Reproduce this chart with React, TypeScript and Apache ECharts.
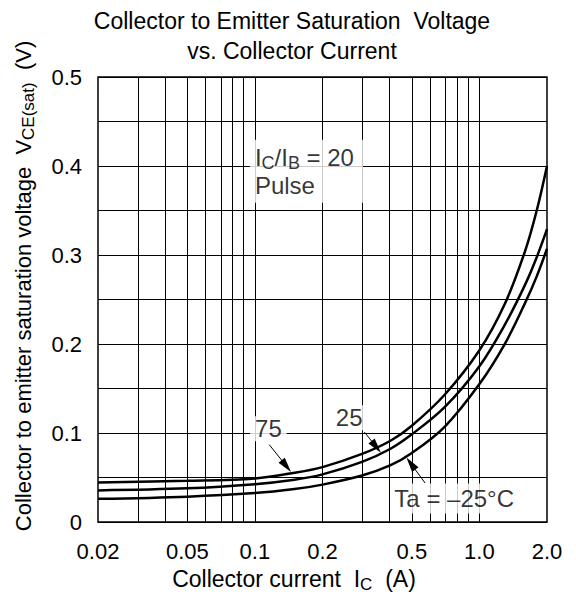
import { useEffect, useRef } from 'react';
import * as echarts from 'echarts';

// Collector current I_C (A)
const currents = [0.02, 0.05, 0.1, 0.15, 0.2, 0.3, 0.4, 0.5, 0.7, 1.0, 1.3, 1.6, 1.8, 2.0];
// V_CE(sat) (V) for each ambient temperature
const vce75 = [0.0445, 0.0463, 0.049, 0.0553, 0.0617, 0.0765, 0.091, 0.1082, 0.143, 0.193, 0.2455, 0.305, 0.35, 0.4];
const vce25 = [0.0355, 0.0378, 0.0425, 0.0475, 0.0535, 0.0675, 0.082, 0.0985, 0.129, 0.175, 0.222, 0.267, 0.2975, 0.329];
const vceMinus25 = [0.026, 0.0285, 0.0325, 0.037, 0.042, 0.0522, 0.0635, 0.0775, 0.107, 0.155, 0.2005, 0.2465, 0.276, 0.307];

const xTickValues = [0.02, 0.05, 0.1, 0.2, 0.5, 1.0, 2.0];
const xTickLabels = ['0.02', '0.05', '0.1', '0.2', '0.5', '1.0', '2.0'];
const xGridValues = [0.03, 0.04, 0.05, 0.06, 0.07, 0.08, 0.09, 0.1, 0.2, 0.3, 0.4, 0.5, 0.6, 0.7, 0.8, 0.9, 1.0];
const yTickLabels = ['0', '0.1', '0.2', '0.3', '0.4', '0.5'];

const titleText = 'Collector to Emitter Saturation  Voltage\nvs. Collector Current';
const xAxisTitle = 'Collector current  I{sub|C}  (A)';
const yAxisTitle = 'Collector to emitter saturation voltage  V{sub|CE(sat)}  (V)';

const annotationTexts = ['I{sub|C}/I{sub|B} = 20\nPulse', '75', '25', 'Ta = –25°C'];
// anchors in data units [I_C, V]
const annotationAnchors = [
  [0.095, 0.394],
  [0.1148, 0.1048],
  [0.263, 0.1172],
  [0.772, 0.0263],
];
const arrowStarts = [
  [0.1158, 0.0869],
  [0.3072, 0.1011],
  [0.573, 0.0438],
];
const arrowEnds = [
  [0.138, 0.0629],
  [0.347, 0.0844],
  [0.495, 0.0656],
];

const FONT = '"Liberation Sans", Arial, Helvetica, sans-serif';
const lg = (v: number) => Math.log10(v);

export default function App() {
  const ref = useRef<HTMLDivElement>(null);

  useEffect(() => {
    if (!ref.current) return;
    const chart = echarts.init(ref.current, null, { renderer: 'svg' });

    const curve = (name: string, vals: number[]) => ({
      name,
      type: 'line',
      data: currents.map((c, i) => [lg(c), vals[i]]),
      showSymbol: false,
      symbol: 'none',
      smooth: 0.35,
      lineStyle: { color: '#000', width: 2.5 },
      z: 5,
      silent: true,
    });

    const subRich = (size: number) => ({
      sub: { fontSize: size, lineHeight: size, verticalAlign: 'bottom', fontFamily: FONT, color: '#000', fill: '#000' },
    });

    const option: any = {
      animation: false,
      backgroundColor: '#fff',
      title: {
        text: titleText,
        left: 292,
        top: 6,
        textAlign: 'center',
        padding: 0,
        textStyle: { fontSize: 23, fontWeight: 'normal', lineHeight: 30, color: '#000', fontFamily: FONT },
      },
      grid: { left: 98, right: 29, top: 77, bottom: 82, show: true, borderColor: '#000', borderWidth: 1.5 },
      xAxis: {
        type: 'value',
        min: lg(0.02),
        max: lg(2.0),
        axisLine: { show: false },
        axisTick: { show: false },
        splitLine: { show: false },
        axisLabel: {
          customValues: xTickValues.map(lg),
          formatter: (v: number) => {
            const i = xTickValues.findIndex((t) => Math.abs(lg(t) - v) < 1e-6);
            return i >= 0 ? xTickLabels[i] : '';
          },
          margin: 18,
          fontSize: 22,
          color: '#000',
          fontFamily: FONT,
        },
      },
      yAxis: {
        type: 'value',
        min: 0,
        max: 0.5,
        interval: 0.05,
        axisLine: { show: false },
        axisTick: { show: false },
        splitLine: { show: true, lineStyle: { color: '#000', width: 1 } },
        axisLabel: {
          formatter: (v: number) => {
            const i = Math.round(v * 20);
            return i % 2 === 0 ? yTickLabels[i / 2] : '';
          },
          margin: 16,
          fontSize: 22,
          color: '#000',
          fontFamily: FONT,
        },
      },
      graphic: [
        {
          type: 'text',
          x: 294,
          y: 579,
          style: {
            text: xAxisTitle,
            fontSize: 23,
            lineHeight: 28,
            fontFamily: FONT,
            fill: '#000',
            align: 'center',
            verticalAlign: 'middle',
            rich: subRich(17),
          },
        },
        {
          type: 'text',
          x: 23,
          y: 286,
          rotation: Math.PI / 2,
          style: {
            text: yAxisTitle,
            fontSize: 22,
            lineHeight: 28,
            fontFamily: FONT,
            fill: '#000',
            align: 'center',
            verticalAlign: 'middle',
            rich: subRich(17),
          },
        },
      ],
      series: [
        {
          name: 'grid-x',
          type: 'line',
          data: [],
          z: 1,
          silent: true,
          markLine: {
            silent: true,
            symbol: 'none',
            label: { show: false },
            lineStyle: { color: '#000', width: 1, type: 'solid' },
            emphasis: { disabled: true },
            data: xGridValues.map((v) => ({ xAxis: lg(v) })),
          },
        },
        curve('75', vce75),
        curve('25', vce25),
        curve('-25', vceMinus25),
        {
          name: 'annotations',
          type: 'scatter',
          symbolSize: 0,
          itemStyle: { color: 'rgba(0,0,0,0)' },
          z: 10,
          silent: true,
          data: annotationTexts.map((t, i) => ({
            name: t,
            value: [lg(annotationAnchors[i][0]), annotationAnchors[i][1]],
            label: {
              show: true,
              formatter: (p: any) => p.name,
              position: i === 0 ? 'right' : 'inside',
              distance: 0,
              align: i === 0 ? 'left' : 'center',
              fontSize: 24,
              lineHeight: i === 0 ? 28 : 24,
              color: '#000',
              fontFamily: FONT,
              backgroundColor: '#fff',
              padding: i === 0 ? [4, 9, 3, 5] : i === 3 ? [3, 3, 3, 3] : [0, 5, 1, 5],
              rich: subRich(18),
            },
          })),
          markLine: {
            silent: true,
            symbol: ['none', 'triangle'],
            label: { show: false },
            lineStyle: { color: '#000', width: 1, type: 'solid' },
            itemStyle: { color: '#000' },
            emphasis: { disabled: true },
            data: arrowStarts.map((s, i) => [
              { coord: [lg(s[0]), s[1]], symbol: 'none' },
              { coord: [lg(arrowEnds[i][0]), arrowEnds[i][1]], symbol: 'triangle', symbolSize: [8, 15] },
            ]),
          },
        },
      ],
    };

    chart.setOption(option);
    return () => chart.dispose();
  }, []);

  return <div ref={ref} style={{ position: 'fixed', left: 0, top: 0, width: 576, height: 604 }} />;
}
